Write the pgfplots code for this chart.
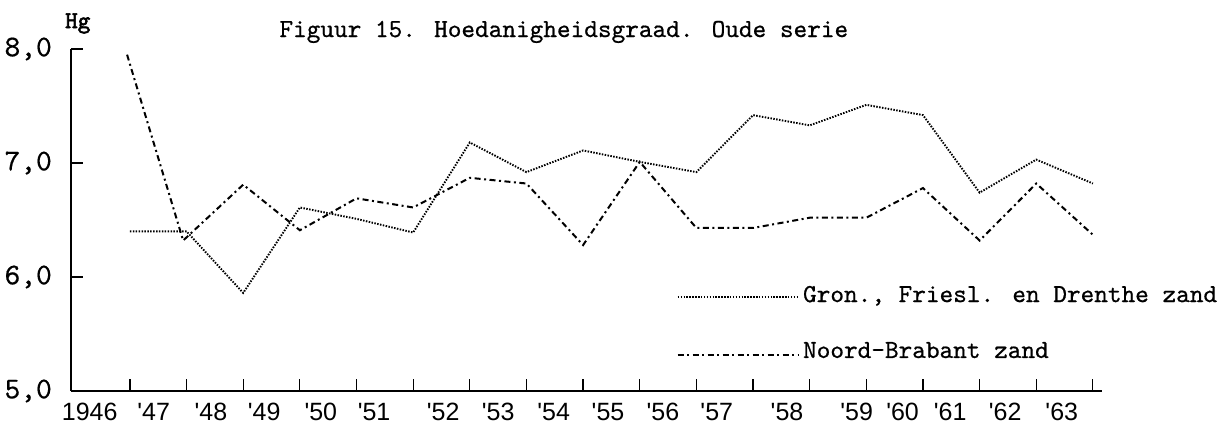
\documentclass[border=0pt]{standalone}
\usepackage{pgfplots}
\pgfplotsset{compat=1.18}
\usepackage{fontspec}
\newfontfamily\yearfont{Liberation Sans}
\newfontfamily\tw{lmmono10-regular}[Extension=.otf, FakeBold=0.6]
\newfontfamily\hgfont{lmmono10-regular}[Extension=.otf, FakeBold=2.5]
\begin{document}
\begin{tikzpicture}
\path[use as bounding box] (-71bp,-34bp) rectangle (1150bp,391bp);
\begin{axis}[
  at={(0,0)}, anchor=south west,
  scale only axis, width=1031bp, height=342bp,
  xmin=1944.96, xmax=1963.16, ymin=5, ymax=8,
  axis x line*=bottom, axis y line*=left,
  axis line style={-, line width=1.3bp, black},
  clip=false,
  tick align=inside,
  major tick length=12bp,
  tick style={line width=1.2bp, black},
  ytick={5,6,7,8},
  yticklabels={{5,0},{6,0},{7,0},{8,0}},
  yticklabel style={font=\tw\fontsize{30bp}{32bp}\selectfont, anchor=east, inner sep=0pt, xshift=-19bp},
  xtick={1946,1947,...,1963},
  xticklabel=\empty,
  extra x ticks={1945.29,1946.42,1947.43,1948.37,1949.37,1950.31,1951.53,1952.50,1953.48,1954.44,1955.41,1956.36,1957.60,1958.83,1959.64,1960.48,1961.45,1962.45},
  extra x tick labels={1946,\textquotesingle 47,\textquotesingle 48,\textquotesingle 49,\textquotesingle 50,\textquotesingle 51,\textquotesingle 52,\textquotesingle 53,\textquotesingle 54,\textquotesingle 55,\textquotesingle 56,\textquotesingle 57,\textquotesingle 58,\textquotesingle 59,\textquotesingle 60,\textquotesingle 61,\textquotesingle 62,\textquotesingle 63},
  extra x tick style={major tick length=0pt, tick style={draw=none}},
  xticklabel style={font=\yearfont\fontsize{25bp}{27bp}\selectfont, anchor=north, inner sep=0pt, yshift=-12bp},
]
\addplot[black, line width=1.9bp, dash pattern=on 1.5bp off 1.4bp] coordinates {
(1946,6.40) (1947,6.40) (1948,5.86) (1949,6.61) (1950,6.51) (1951,6.39)
(1952,7.18) (1953,6.92) (1954,7.11) (1955,7.01) (1956,6.92) (1957,7.42)
(1958,7.33) (1959,7.51) (1960,7.42) (1961,6.74) (1962,7.03) (1963,6.82)};
\addplot[black, line width=2bp, dash pattern=on 6bp off 3.5bp on 2bp off 3.5bp] coordinates {
(1945.95,7.95) (1946.94,6.32) (1948,6.81) (1949,6.41) (1950,6.69) (1951,6.61)
(1952,6.87) (1953,6.82) (1954,6.28) (1955,7.01) (1956,6.43) (1957,6.43)
(1958,6.52) (1959,6.52) (1960,6.78) (1961,6.32) (1962,6.82) (1963,6.37)};
\draw[black, line width=1.9bp, dash pattern=on 1.5bp off 1.4bp] (axis cs:1955.67,5.825) -- (axis cs:1957.79,5.825);
\draw[black, line width=2bp, dash pattern=on 6bp off 3.5bp on 2bp off 3.5bp] (axis cs:1955.67,5.316) -- (axis cs:1957.79,5.316);
\node[anchor=base west, inner sep=0pt, font=\tw\fontsize{26bp}{28bp}\selectfont] at (axis cs:1957.88,5.78) {Gron., Friesl. en Drenthe zand};
\node[anchor=base west, inner sep=0pt, font=\tw\fontsize{26bp}{28bp}\selectfont] at (axis cs:1957.88,5.29) {Noord-Brabant zand};
\node[anchor=base, inner sep=0pt, font=\tw\fontsize{26bp}{28bp}\selectfont] at (axis cs:1953.66,8.105) {Figuur 15. Hoedanigheidsgraad. Oude serie};
\node[anchor=base, inner sep=0pt, font=\hgfont\fontsize{24bp}{26bp}\selectfont] at (axis cs:1945.08,8.184) {Hg};
\end{axis}
\end{tikzpicture}
\end{document}
